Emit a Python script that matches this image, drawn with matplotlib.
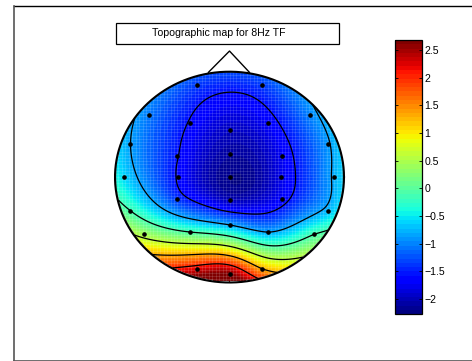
import numpy as np
import matplotlib
matplotlib.use("Agg")
import matplotlib.pyplot as plt
from matplotlib.patches import Rectangle, Circle
from matplotlib.lines import Line2D

# ---- data: electrode positions (head units, radius 0.5) and values ----
elec_x = [-0.142, 0.141, -0.353, 0.352, -0.171, 0.168, 0.0, -0.433, 0.431,
          -0.229, 0.0, 0.228, -0.461, -0.226, 0.0, 0.224, 0.458,
          -0.229, 0.0, 0.228, -0.433, 0.431, -0.171, 0.0, 0.168,
          -0.373, 0.370, -0.142, 0.0, 0.141]
elec_y = [0.436, 0.436, 0.294, 0.294, 0.259, 0.259, 0.224, 0.156, 0.156,
          0.101, 0.110, 0.101, 0.0, 0.0, 0.0, 0.0, 0.0,
          -0.103, -0.111, -0.103, -0.160, -0.160, -0.261, -0.227, -0.261,
          -0.272, -0.272, -0.437, -0.460, -0.437]
elec_val = [-1.35, -1.35, -1.05, -1.0, -1.6, -1.7, -1.95, -0.86, -0.9,
            -1.55, -2.1, -1.75, -0.6, -1.6, -2.2, -1.8, -0.8,
            -1.4, -2.0, -1.7, -0.15, -0.75, -0.15, -0.86, -0.86,
            0.4, -0.15, 2.2, 2.6, 1.3]
clim = (-2.28, 2.68)
cbar_ticks = [-2, -1.5, -1, -0.5, 0, 0.5, 1, 1.5, 2, 2.5]
title_text = "Topographic map for 8Hz TF"
n_contours = 6

W, H = 472, 361
fig = plt.figure(figsize=(W / 100, H / 100), dpi=100)
plt.rcParams['font.family'] = ['Liberation Sans', 'DejaVu Sans']
cmap = plt.get_cmap('jet', 64)

def fx(px):
    return px / W

def fy(py):
    return 1 - py / H

# outer frame
fig.add_artist(Line2D([fx(13.5), 1.0], [fy(5.5), fy(5.5)], color='black', lw=1.0))
fig.add_artist(Line2D([fx(13.5), fx(13.5)], [fy(5.5), fy(360.5)], color='#555555', lw=1.2))
fig.add_artist(Line2D([fx(13.5), 1.0], [fy(360.5), fy(360.5)], color='#555555', lw=1.2))

# ---- biharmonic spline interpolation (griddata 'v4') ----
ex = np.array(elec_x)
ey = np.array(elec_y)
ev = np.array(elec_val)
pts = ex + 1j * ey

def green(d):
    with np.errstate(divide='ignore', invalid='ignore'):
        g = d ** 2 * (np.log(d) - 1)
    g[d == 0] = 0
    return g

G = green(np.abs(pts[:, None] - pts[None, :]))
w = np.linalg.solve(G, ev)
ng = 201
gx = np.linspace(-0.5, 0.5, ng)
XX, YY = np.meshgrid(gx, gx)
gp = (XX + 1j * YY).ravel()
ZZ = (green(np.abs(gp[:, None] - pts[None, :])) @ w).reshape(XX.shape)
mask = XX ** 2 + YY ** 2 > 0.5 ** 2
ZZ = np.ma.masked_where(mask, ZZ)

ax = fig.add_axes([fx(115), fy(282.5), (344 - 115) / W, (282.5 - 71.7) / H])
ax.set_xlim(-0.5, 0.5)
ax.set_ylim(-0.5, 0.5)
ax.axis('off')
im = ax.imshow(ZZ, extent=(-0.5, 0.5, -0.5, 0.5), origin='lower', cmap=cmap,
               vmin=clim[0], vmax=clim[1], interpolation='bilinear', aspect='auto')
clipc = Circle((0, 0), 0.5, transform=ax.transData)
im.set_clip_path(clipc)
# faint mesh texture
mesh = np.linspace(-0.5, 0.5, 67)
vl = ax.vlines(mesh, -0.5, 0.5, colors='white', linewidths=0.5, alpha=0.18)
hl = ax.hlines(mesh, -0.5, 0.5, colors='white', linewidths=0.5, alpha=0.18)
vl.set_clip_path(clipc)
hl.set_clip_path(clipc)
levels = np.linspace(clim[0], clim[1], n_contours + 2)[1:-1]
cs = ax.contour(XX, YY, ZZ, levels=levels, colors='black', linewidths=0.9,
                linestyles='solid')
cs.set_clip_path(clipc)
# head ring and nose
th = np.linspace(0, 2 * np.pi, 400)
ax.plot(0.5 * np.cos(th), 0.5 * np.sin(th), color='black', lw=1.5, clip_on=False)
ax.plot([-0.092, 0.0, 0.087], [0.497, 0.598, 0.497], color='black', lw=1.0, clip_on=False)
ax.plot(ex, ey, 'o', color='black', ms=2.3, clip_on=False)

# title box
fig.add_artist(Rectangle((fx(115.7), fy(44.3)), (339 - 115.7) / W, (44.3 - 23.3) / H,
                         transform=fig.transFigure, fill=False, edgecolor='black', lw=0.9))
fig.text(fx(219), fy(35.8), title_text, ha='center', va='baseline', fontsize=7.6)

# colorbar
cax = fig.add_axes([fx(395), fy(314.3), (421.7 - 395) / W, (314.3 - 40) / H])
cb = fig.colorbar(im, cax=cax, ticks=cbar_ticks)
cb.ax.set_yticklabels([('%g' % t).replace('-', '\u2212') for t in cbar_ticks])
cb.ax.tick_params(direction='in', length=2.5, width=0.6, labelsize=7.6, pad=2,
                  left=True, right=True)
cb.outline.set_linewidth(0.9)

fig.savefig('out.png', dpi=100)
